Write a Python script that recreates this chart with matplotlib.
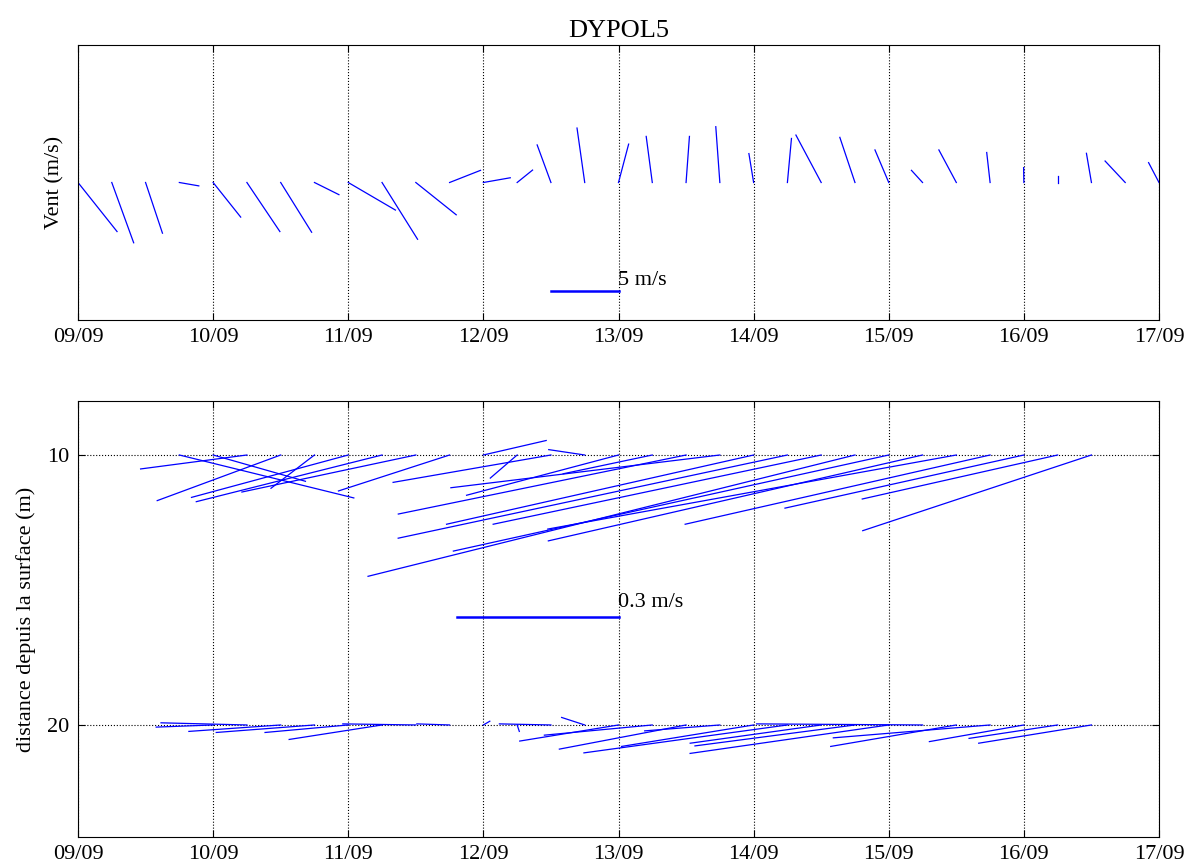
import numpy as np
import matplotlib.pyplot as plt

# wind, every 6 h from 09/09 00h (days since 09/09)
wind_t = [0.0, 0.25, 0.5, 0.75, 1.0, 1.25, 1.5, 1.75, 2.0, 2.25, 2.5, 2.75,
          3.0, 3.25, 3.5, 3.75, 4.0, 4.25, 4.5, 4.75, 5.0, 5.25, 5.5, 5.75,
          6.0, 6.25, 6.5, 6.75, 7.0, 7.25, 7.5, 7.75, 8.0]
wind_u = [2.89, 1.62, 1.25, 1.44, 2.04, 2.44, 2.29, 1.81, 3.49, 2.63, 2.99, 2.29,
          1.99, 1.14, -1.02, -0.57, 0.75, -0.45, 0.25, -0.30, -0.35, 0.30, -1.87, -1.12,
          -1.02, -0.82, -1.29, -0.25, -0.02, 0.0, -0.37, -1.49, -0.77]
wind_v = [-3.63, -4.46, -3.75, -0.25, -2.56, -3.63, -3.68, -0.90, -2.04, -4.20, -2.39, 0.90,
          0.35, 0.92, 2.78, 4.03, 2.84, 3.41, 3.41, 4.13, 2.14, 3.26, 3.51, 3.34,
          2.41, 0.90, 2.41, 2.22, 1.10, 0.47, 2.16, 1.59, 1.47]

# current at 10 m
c10_t = [0.75, 1.0, 1.25, 1.5, 1.75, 2.0, 2.25, 2.5, 2.75, 3.0, 3.25, 3.5, 3.75,
         4.0, 4.25, 4.5, 4.75, 5.0, 5.25, 5.5, 5.75, 6.0, 6.25, 6.5,
         6.75, 7.0, 7.25, 7.5]
c10_u = [0.325, 0.172, -0.198, -0.230, -0.081, -0.292, -0.346, -0.324, -0.207, 0.117, -0.050, -0.294, -0.067,
         -0.283, -0.166, -0.536, -0.501, -0.572, -0.725, -0.611, -0.907, -0.811, -0.697, -0.761,
         -0.568, -0.445, -0.364, -0.426]
c10_v = [-0.080, -0.049, -0.026, -0.085, -0.062, -0.079, -0.087, -0.069, -0.067, 0.027, -0.043, -0.051, 0.010,
         -0.075, -0.035, -0.110, -0.061, -0.129, -0.155, -0.129, -0.226, -0.179, -0.160, -0.138,
         -0.129, -0.099, -0.082, -0.141]

# current at 20 m
c20_t = [1.0, 1.25, 1.5, 1.75, 2.0, 2.25, 2.5, 2.75, 3.0, 3.25, 3.5, 3.75,
         4.0, 4.25, 4.5, 4.75, 5.0, 5.25, 5.5, 5.75, 6.0, 6.25, 6.5, 6.75,
         7.0, 7.25, 7.5]
c20_u = [-0.106, -0.160, -0.171, -0.183, -0.155, -0.173, -0.136, -0.061, 0.012, 0.004, -0.096, -0.043,
         -0.184, -0.201, -0.236, -0.140, -0.246, -0.379, -0.244, -0.298, -0.370, -0.309, -0.234, -0.292,
         -0.176, -0.165, -0.210]
c20_v = [-0.004, 0.004, -0.012, -0.014, -0.014, -0.027, 0.002, 0.002, 0.007, -0.012, 0.002, 0.014,
         -0.030, -0.019, -0.045, -0.011, -0.040, -0.052, -0.034, -0.039, -0.053, 0.002, -0.040, -0.024,
         -0.031, -0.025, -0.034]

day_labels = ['09/09', '10/09', '11/09', '12/09', '13/09', '14/09', '15/09', '16/09', '17/09']

plt.rcParams['font.family'] = ['Liberation Serif', 'DejaVu Serif']
plt.rcParams['font.size'] = 16

W, H = 1191, 868
fig = plt.figure(figsize=(W / 100, H / 100), dpi=100)

top_box = [78, 45, 1159, 320]      # pixel box: left, top, right, bottom
bot_box = [78, 401, 1159, 837]


def make_axes(box):
    l, t, r, b = box
    return fig.add_axes([l / W, 1 - b / H, (r - l) / W, (b - t) / H])


ax1 = make_axes(top_box)
ax2 = make_axes(bot_box)

px_per_day = (top_box[2] - top_box[0]) / 8.0
blue = (0, 0, 1)

# ---- wind feather plot
wind_k = 0.1                                 # days per m/s
h1 = top_box[3] - top_box[1]
ylim1 = (h1 / 2) / (px_per_day * wind_k)     # y unit = m/s, same pixel scale as x
for t, u, v in zip(wind_t, wind_u, wind_v):
    ax1.plot([t, t + u * wind_k], [0, v], color=blue, lw=0.9)
ax1.plot([4 - 5 * wind_k, 4], [-8.05, -8.05], color=blue, lw=1.8)
ax1.text(4, -7.95, '5 m/s', ha='left', va='bottom')
ax1.set_xlim(0, 8)
ax1.set_ylim(-ylim1, ylim1)
ax1.set_yticks([])
ax1.set_ylabel('Vent (m/s)', labelpad=10)
ax1.set_title('DYPOL5', fontsize=19, pad=6)

# ---- current feather plot
cur_k = 3.973                                # days per m/s
px_per_m = 27.0
cur_ky = cur_k * px_per_day / px_per_m       # depth metres per m/s
for z0, ts, us, vs in [(10, c10_t, c10_u, c10_v), (20, c20_t, c20_u, c20_v)]:
    for t, u, v in zip(ts, us, vs):
        ax2.plot([t, t + u * cur_k], [z0, z0 - v * cur_ky], color=blue, lw=0.9)
ax2.plot([4 - 0.3 * cur_k, 4], [16.0, 16.0], color=blue, lw=1.8)
ax2.text(4, 15.8, '0.3 m/s', ha='left', va='bottom')
ax2.set_xlim(0, 8)
ax2.set_ylim(24.15, 8)
ax2.set_yticks([10, 20])
ax2.set_ylabel('distance depuis la surface (m)', labelpad=8)
ax2.yaxis.grid(True, linestyle=':', color='k', lw=0.8)

for ax in (ax1, ax2):
    ax.set_xticks(range(9))
    ax.set_xticklabels(day_labels)
    ax.xaxis.grid(True, linestyle=':', color='k', lw=0.8)
    ax.tick_params(direction='in', length=5, top=True, right=True, pad=6)
    ax.set_axisbelow(True)

fig.savefig('out.png', dpi=100)
